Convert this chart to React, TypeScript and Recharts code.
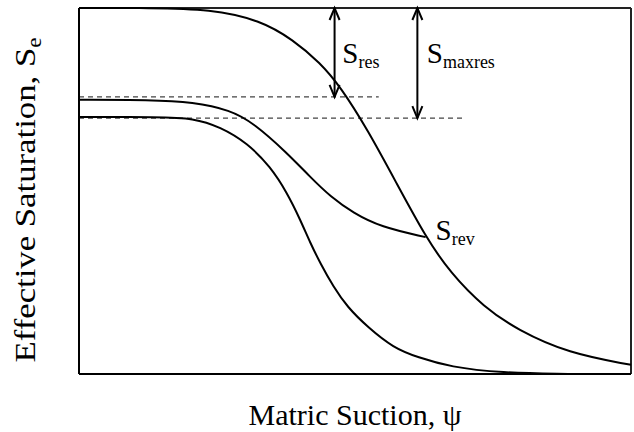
import React from "react";
import {
  LineChart,
  Line,
  XAxis,
  YAxis,
  ReferenceLine,
  ReferenceDot,
  Label,
} from "recharts";

// main drainage curve
const mainSuction = [0, 12.9, 23.8, 32.8, 38.8, 43.7, 47.4, 52.3, 57.5, 62.8, 67.3, 73.3, 79.5, 88.6, 100];
const mainSat = [1.0, 1.0, 0.997, 0.967, 0.913, 0.85, 0.784, 0.667, 0.522, 0.374, 0.276, 0.183, 0.12, 0.057, 0.025];

// scanning curve ending at S_rev
const scanSuction = [0, 12.9, 20.7, 27.4, 31.6, 37.7, 41.9, 45.6, 49.7, 54.6, 62.8];
const scanSat = [0.749, 0.749, 0.743, 0.721, 0.686, 0.604, 0.538, 0.484, 0.44, 0.402, 0.374];

// lower curve
const lowSuction = [0, 14.7, 20.7, 25.6, 30.5, 34.7, 37.7, 40.1, 41.9, 43.7, 46.1, 48.6, 52.3, 57.0, 61.3, 67.3, 76.4, 88.6];
const lowSat = [0.702, 0.702, 0.699, 0.675, 0.631, 0.566, 0.495, 0.421, 0.358, 0.303, 0.238, 0.183, 0.128, 0.071, 0.046, 0.019, 0.003, 0];

// residual levels (dashed) and where the arrows sit
const resLevel = 0.757;
const resDashEnd = 54.3;
const maxresLevel = 0.699;
const maxresDashEnd = 69.5;
const resArrowX = 46.3;
const maxresArrowX = 61.3;

const annotations = [
  { x: 47.7, y: 0.85, main: "S", sub: "res" },
  { x: 63.0, y: 0.85, main: "S", sub: "maxres" },
  { x: 64.6, y: 0.366, main: "S", sub: "rev" },
];

const toPoints = (xs: number[], ys: number[]) => xs.map((x, i) => ({ x, y: ys[i] }));

const FONT = "'Liberation Serif', 'Times New Roman', 'DejaVu Serif', serif";

const Arrow = (props: any) => {
  const { x1, y1, x2, y2 } = props;
  const h = 12;
  const w = 5;
  return (
    <g stroke="#000" strokeWidth={2} fill="none">
      <line x1={x1} y1={y1} x2={x2} y2={y2} />
      <polyline points={`${x1 - w},${y1 + h} ${x1},${y1} ${x1 + w},${y1 + h}`} />
      <polyline points={`${x2 - w},${y2 - h} ${x2},${y2} ${x2 + w},${y2 - h}`} />
    </g>
  );
};

const annotShape = (main: string, sub: string) => (props: any) => (
  <text x={props.cx} y={props.cy} style={{ fontFamily: FONT }} fill="#000">
    <tspan fontSize={29}>{main}</tspan>
    <tspan fontSize={18} dy={5}>
      {sub}
    </tspan>
  </text>
);

export default function App() {
  return (
    <div style={{ position: "absolute", left: 0, top: 0 }}>
      <LineChart width={634} height={432} margin={{ top: 8, right: 3, bottom: 0, left: 0 }}>
        <XAxis
          type="number"
          dataKey="x"
          domain={[0, 100]}
          tick={false}
          tickLine={false}
          height={58}
          axisLine={{ stroke: "#000", strokeWidth: 2 }}
        >
          <Label
            content={(p: any) => (
              <text
                x={p.viewBox.x + p.viewBox.width / 2}
                y={p.viewBox.y + 51}
                textAnchor="middle"
                style={{ fontFamily: FONT }}
                fontSize={30}
                fill="#000"
              >
                Matric Suction, ψ
              </text>
            )}
          />
        </XAxis>
        <YAxis
          type="number"
          domain={[0, 1]}
          tick={false}
          tickLine={false}
          width={79}
          axisLine={{ stroke: "#000", strokeWidth: 2 }}
        >
          <Label
            content={(p: any) => {
              const cx = 35;
              const cy = p.viewBox.y + p.viewBox.height / 2 + 9;
              return (
                <text
                  x={cx}
                  y={cy}
                  textAnchor="middle"
                  transform={`rotate(-90, ${cx}, ${cy})`}
                  style={{ fontFamily: FONT }}
                  fontSize={30}
                  fill="#000"
                  textLength={325}
                  lengthAdjust="spacingAndGlyphs"
                >
                  Effective Saturation, S
                  <tspan fontSize={20} dy={6}>
                    e
                  </tspan>
                </text>
              );
            }}
          />
        </YAxis>

        <ReferenceLine y={1} stroke="#222" strokeWidth={2} ifOverflow="visible" />
        <ReferenceLine x={100} stroke="#222" strokeWidth={2} ifOverflow="visible" />

        <ReferenceLine
          segment={[{ x: 0, y: resLevel }, { x: resDashEnd, y: resLevel }]}
          stroke="#444"
          strokeWidth={1.2}
          strokeDasharray="5 4"
        />
        <ReferenceLine
          segment={[{ x: 0, y: maxresLevel }, { x: maxresDashEnd, y: maxresLevel }]}
          stroke="#444"
          strokeWidth={1.2}
          strokeDasharray="5 4"
        />

        <Line
          data={toPoints(mainSuction, mainSat)}
          dataKey="y"
          type="basis"
          stroke="#000"
          strokeWidth={2}
          dot={false}
          isAnimationActive={false}
        />
        <Line
          data={toPoints(scanSuction, scanSat)}
          dataKey="y"
          type="basis"
          stroke="#000"
          strokeWidth={2}
          dot={false}
          isAnimationActive={false}
        />
        <Line
          data={toPoints(lowSuction, lowSat)}
          dataKey="y"
          type="basis"
          stroke="#000"
          strokeWidth={2}
          dot={false}
          isAnimationActive={false}
        />

        <ReferenceLine
          segment={[{ x: resArrowX, y: 1 }, { x: resArrowX, y: resLevel }]}
          shape={Arrow}
        />
        <ReferenceLine
          segment={[{ x: maxresArrowX, y: 1 }, { x: maxresArrowX, y: maxresLevel }]}
          shape={Arrow}
        />

        {annotations.map((a) => (
          <ReferenceDot
            key={a.sub}
            x={a.x}
            y={a.y}
            r={0}
            shape={annotShape(a.main, a.sub)}
          />
        ))}
      </LineChart>
    </div>
  );
}
